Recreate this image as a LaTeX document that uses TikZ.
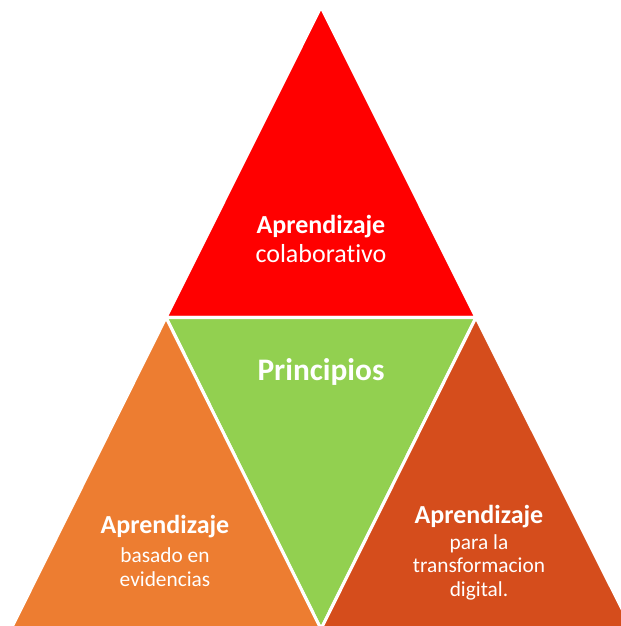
\documentclass[tikz,border=0pt]{standalone}
\usepackage{fontspec}
\setmainfont{Carlito}[Ligatures=CommonOff]
\definecolor{rojo}{HTML}{FF0000}
\definecolor{verde}{HTML}{92D050}
\definecolor{naranja}{HTML}{ED7D31}
\definecolor{ladrillo}{HTML}{D54D1C}
\tikzset{
  pieza/.style={draw=white, line width=2.3pt, line join=miter},
  titulo/.style={text=white, font=\fontsize{19.5}{22}\selectfont\bfseries, anchor=base},
  texto/.style={text=white, font=\fontsize{16}{17.5}\selectfont, align=center, anchor=base},
}
\begin{document}
\begin{tikzpicture}[x=0.75pt,y=-0.75pt]
    \useasboundingbox (0,0) rectangle (621,626);
    % Vertices
    \coordinate (cima) at (321,7);
    \coordinate (izq) at (166,317.5);
    \coordinate (der) at (476,317.5);
    \coordinate (fondo) at (321,629);
    \coordinate (esqizq) at (11,629);
    \coordinate (esqder) at (632,629);

    % Triangulos
    \path[fill=rojo, pieza] (cima) -- (der) -- (izq) -- cycle;
    \path[fill=verde, pieza] (izq) -- (der) -- (fondo) -- cycle;
    \path[fill=naranja, pieza] (izq) -- (fondo) -- (esqizq) -- cycle;
    \path[fill=ladrillo, pieza] (der) -- (esqder) -- (fondo) -- cycle;

    % Textos (base = ultima linea)
    \node[titulo] (colab-tit) at (321,233) {Aprendizaje};
    \node[texto, font=\fontsize{19.5}{22}\selectfont] (colab-txt) at (321,262) {colaborativo};
    \node[titulo, font=\fontsize{23.5}{26}\selectfont\bfseries] (principios) at (321,380) {Principios};
    \node[titulo] (evid-tit) at (165,533) {Aprendizaje};
    \node[texto] (evid-txt) at (165,586) {basado en\\evidencias};
    \node[titulo] (digit-tit) at (479,523) {Aprendizaje};
    \node[texto] (digit-txt) at (479,596) {para la\\transformacion\\digital.};
\end{tikzpicture}
\end{document}
